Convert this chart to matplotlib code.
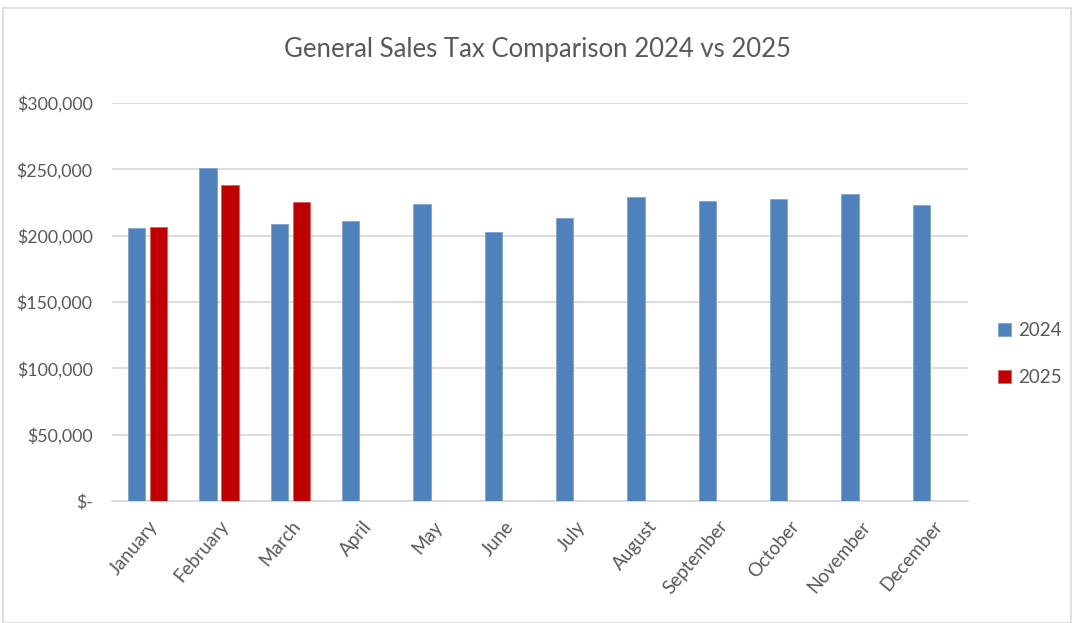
import matplotlib.pyplot as plt
import numpy as np
from matplotlib.patches import Rectangle
from matplotlib.ticker import FuncFormatter

# data
months = ['January', 'February', 'March', 'April', 'May', 'June', 'July',
          'August', 'September', 'October', 'November', 'December']
tax_2024 = [206000, 251000, 208600, 211100, 223900, 202800, 213100,
            228900, 225900, 227400, 231700, 222900]
tax_2025 = [206600, 238200, 225600]
y_ticks = [0, 50000, 100000, 150000, 200000, 250000, 300000]

BLUE = '#4F81BD'
RED = '#C00000'
TEXT = '#595959'
GRID = '#D9D9D9'

plt.rcParams['font.family'] = ['Lato', 'DejaVu Sans']

fig = plt.figure(figsize=(10.73, 6.23), dpi=100)
ax = fig.add_axes([112 / 1073, 1 - 501 / 623, (968 - 112) / 1073, (501 - 103) / 623])

# light border round the whole chart
fig.patches.append(Rectangle((3 / 1073, 0), 1068 / 1073, 1 - 8 / 623,
                             transform=fig.transFigure, fill=False,
                             edgecolor='#D9D9D9', linewidth=1.2))

x = np.arange(len(months))
width = 0.24
offset = 0.155
ax.bar(x - offset, tax_2024, width, color=BLUE, edgecolor='#7FA3D1', linewidth=0.6,
       label='2024', zorder=3)
ax.bar(x[:len(tax_2025)] + offset, tax_2025, width, color=RED, edgecolor='#E06060',
       linewidth=0.6, label='2025', zorder=3)

ax.set_xlim(-0.5, len(months) - 0.5)
ax.set_ylim(0, 300000)
ax.set_yticks(y_ticks)
ax.yaxis.set_major_formatter(FuncFormatter(lambda v, p: '$-' if v == 0 else f'${v:,.0f}'))
ax.grid(axis='y', color=GRID, linewidth=1.3, zorder=0)
ax.set_axisbelow(True)
for s in ['top', 'right', 'left']:
    ax.spines[s].set_visible(False)
ax.spines['bottom'].set_color(GRID)
ax.spines['bottom'].set_linewidth(1.3)
ax.tick_params(axis='both', length=0, colors=TEXT, labelsize=12.8)
ax.tick_params(axis='y', pad=14)
ax.set_xticks(x)
ax.set_xticklabels(months, rotation=50, ha='right', rotation_mode='anchor', fontsize=13.5)
ax.tick_params(axis='x', pad=12)

fig.text(537 / 1073, 1 - 50 / 623, 'General Sales Tax Comparison 2024 vs 2025',
         ha='center', va='center', fontsize=18.5, color=TEXT)

ax.legend(loc='center left', bbox_to_anchor=(1.015, 0.37), frameon=False,
          fontsize=13.5, labelcolor=TEXT, handlelength=0.7, handleheight=0.7,
          handletextpad=0.4, labelspacing=1.6)

fig.savefig('out.png', dpi=100)
